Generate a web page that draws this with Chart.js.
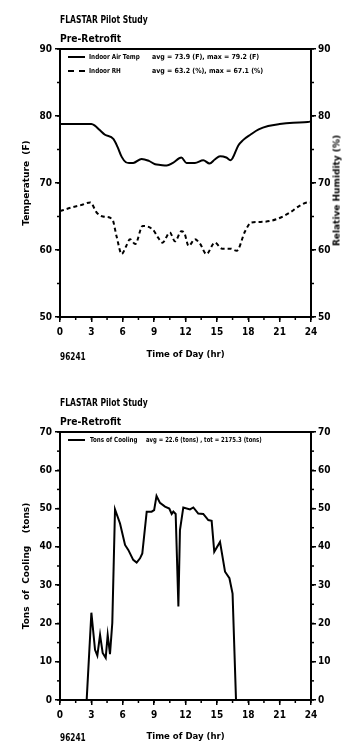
<!DOCTYPE html>
<html>
<head>
<meta charset="utf-8">
<script src="https://cdn.jsdelivr.net/npm/chart.js@4.4.1/dist/chart.umd.min.js"></script>
<style>
  html, body { margin:0; padding:0; background:#fff; width:355px; height:750px; overflow:hidden; }
  .wrap { position:relative; width:355px; height:750px; }
  canvas { position:absolute; left:0; }
  .t { position:absolute; font-family:'Liberation Sans Narrow','DejaVu Sans Condensed',sans-serif; font-weight:bold; color:#000; white-space:pre; line-height:1; transform-origin:left center; }
  .ax { position:absolute; font-family:'DejaVu Sans',sans-serif; font-weight:bold; font-size:9px; color:#000; white-space:pre; line-height:1; transform-origin:center center; }
  .sw { position:absolute; width:17px; height:0; }
</style>
</head>
<body>
<div class="wrap">
  <canvas id="c1" width="355" height="375" style="top:0"></canvas>
  <canvas id="c2" width="355" height="375" style="top:375px"></canvas>

  <div class="t" style="left:60px; top:14px; font-size:11px; transform:scaleX(0.77);">FLASTAR Pilot Study</div>
  <div class="t" style="left:60px; top:33px; font-size:11px; transform:scaleX(0.93);">Pre-Retrofit</div>
  <div class="sw" style="left:68px; top:56px; border-top:2px solid #000;"></div>
  <div class="t" style="left:89px; top:54px; font-size:7px; transform:scaleX(0.9);">Indoor Air Temp</div>
  <div class="t" style="left:152px; top:54px; font-size:7px;">avg = 73.9 (F), max = 79.2 (F)</div>
  <div class="sw" style="left:68px; top:70px; border-top:2px dashed #000;"></div>
  <div class="t" style="left:89px; top:68px; font-size:7px; transform:scaleX(0.9);">Indoor RH</div>
  <div class="t" style="left:152px; top:68px; font-size:7px;">avg = 63.2 (%), max = 67.1 (%)</div>
  <div class="ax" id="rhTitle" style="left:277px; top:186px; width:120px; text-align:center; transform:rotate(-90deg);">Relative Humidity (%)</div>
  <div class="t" style="left:60px; top:352px; font-size:10px; transform:scaleX(0.82);">96241</div>

  <div class="t" style="left:60px; top:397px; font-size:11px; transform:scaleX(0.77);">FLASTAR Pilot Study</div>
  <div class="t" style="left:60px; top:416px; font-size:11px; transform:scaleX(0.93);">Pre-Retrofit</div>
  <div class="sw" style="left:68px; top:439px; border-top:2px solid #000;"></div>
  <div class="t" style="left:90px; top:437px; font-size:7px; transform:scaleX(0.88);">Tons of Cooling</div>
  <div class="t" style="left:146px; top:437px; font-size:7px; transform:scaleX(0.85);">avg = 22.6 (tons) , tot = 2175.3 (tons)</div>
  <div class="t" style="left:60px; top:733px; font-size:10px; transform:scaleX(0.82);">96241</div>
</div>
<script>
// ---- data ----
const tempHours  = [0, 3.0, 3.3, 3.8, 4.3, 5.1, 5.5, 5.9, 6.3, 6.6, 7.0, 7.8, 8.5, 9.1, 9.6, 10.2, 10.8, 11.6, 12.1, 12.9, 13.7, 14.3, 14.8, 15.3, 15.9, 16.3, 16.5, 17.05, 17.5, 18.2, 19.0, 19.9, 21.0, 22.3, 23.7, 24];
const tempValues = [78.8, 78.8, 78.6, 77.9, 77.2, 76.6, 75.4, 73.9, 73.1, 73.0, 73.0, 73.6, 73.3, 72.8, 72.7, 72.6, 73.0, 73.8, 73.0, 73.0, 73.4, 72.9, 73.5, 74.0, 73.8, 73.4, 73.7, 75.6, 76.4, 77.2, 78.0, 78.5, 78.8, 79.0, 79.1, 79.2];

const rhHours  = [0, 1.0, 2.0, 2.9, 3.5, 4.1, 5.0, 5.4, 5.9, 6.3, 6.7, 7.2, 7.9, 8.9, 9.4, 9.8, 10.5, 11.0, 11.6, 11.9, 12.3, 12.9, 13.4, 14.0, 14.8, 15.5, 16.3, 16.9, 17.7, 18.3, 19.4, 20.7, 22.0, 22.9, 23.7, 24];
const rhValues = [65.8, 66.3, 66.7, 67.1, 65.6, 65.0, 64.6, 62.1, 59.4, 60.5, 61.6, 60.9, 63.6, 63.0, 61.8, 61.1, 62.6, 61.3, 62.8, 62.5, 60.6, 61.6, 60.9, 59.4, 61.1, 60.2, 60.2, 59.9, 62.8, 64.1, 64.2, 64.6, 65.6, 66.6, 67.1, 67.1];

const coolHours  = [0, 2.55, 3.0, 3.35, 3.57, 3.83, 4.08, 4.37, 4.56, 4.78, 5.0, 5.26, 5.74, 6.22, 6.53, 7.0, 7.33, 7.65, 7.87, 8.29, 8.76, 9.0, 9.23, 9.56, 10.04, 10.45, 10.68, 10.84, 11.06, 11.32, 11.47, 11.79, 12.43, 12.75, 13.22, 13.7, 14.18, 14.5, 14.75, 15.3, 15.78, 16.2, 16.5, 16.83, 24];
const coolValues = [0, 0, 22.8, 13.1, 11.6, 17.0, 12.3, 11.0, 17.0, 12.0, 20.1, 49.8, 46.1, 40.5, 39.2, 36.6, 35.9, 37.0, 38.3, 49.2, 49.2, 49.6, 53.3, 51.5, 50.5, 50.0, 48.6, 49.2, 48.6, 24.4, 44.4, 50.3, 49.8, 50.3, 48.7, 48.6, 47.0, 46.8, 38.7, 41.3, 33.5, 31.8, 27.8, 0, 0];

const hourTicks = [0, 3, 6, 9, 12, 15, 18, 21, 24];
const tempRange = [50, 90];
const coolRange = [0, 70];

// ---- chart setup ----
const NARROW = "'Liberation Sans Narrow','DejaVu Sans Condensed',sans-serif";
Chart.defaults.font.family = NARROW;
Chart.defaults.font.weight = 'bold';
Chart.defaults.color = '#000';

const pts = (xs, ys) => xs.map((x, i) => ({x: x, y: ys[i]}));

const minorTicks = {
  id: 'minorTicks',
  afterDraw(chart, args, opts) {
    const ctx = chart.ctx;
    ctx.save();
    ctx.strokeStyle = '#000';
    ctx.lineWidth = 1.5;
    for (const id in opts.steps) {
      const s = chart.scales[id];
      const step = opts.steps[id];
      for (let v = s.min; v <= s.max + 1e-9; v += step) {
        const p = s.getPixelForValue(v);
        ctx.beginPath();
        if (s.isHorizontal()) {
          ctx.moveTo(p, s.top); ctx.lineTo(p, s.top + 3);
        } else if (s.position === 'left') {
          ctx.moveTo(s.right - 3, p); ctx.lineTo(s.right, p);
        } else {
          ctx.moveTo(s.left, p); ctx.lineTo(s.left + 3, p);
        }
        ctx.stroke();
      }
    }
    ctx.restore();
  }
};

function xAxis(titlePadBottom, height) {
  return {
    type: 'linear', position: 'bottom', min: 0, max: 24,
    afterBuildTicks: s => { s.ticks = hourTicks.map(v => ({value: v})); },
    ticks: { font: {size: 10}, padding: 4, maxRotation: 0, autoSkip: false },
    grid: { drawOnChartArea: false, tickLength: 5, color: '#000', lineWidth: 1.5 },
    border: { color: '#000', width: 2 },
    title: { display: true, text: 'Time of Day (hr)', font: {size: 9.5}, padding: {top: 0, bottom: titlePadBottom} },
    afterFit: s => { s.height = height; }
  };
}
function topAxis() {
  return {
    type: 'linear', position: 'top', min: 0, max: 24,
    ticks: { display: false }, grid: { display: false, drawTicks: false },
    border: { color: '#000', width: 2 },
    afterFit: s => { s.height = 0; }
  };
}
function yAxis(pos, range, title, width) {
  const o = {
    type: 'linear', position: pos, min: range[0], max: range[1],
    ticks: { stepSize: 10, font: {size: 10}, padding: pos === 'left' ? 3 : 2 },
    grid: { drawOnChartArea: false, tickLength: 5, color: '#000', lineWidth: 1.5 },
    border: { color: '#000', width: 2 },
    afterFit: s => { s.width = width; }
  };
  if (title) {
    o.title = { display: true, text: title, font: {size: 9, family: "'DejaVu Sans',sans-serif"}, padding: {top: 21, bottom: 0} };
  }
  return o;
}

new Chart(document.getElementById('c1'), {
  type: 'line',
  data: {
    datasets: [
      { label: 'Indoor Air Temp', data: pts(tempHours, tempValues), yAxisID: 'y', xAxisID: 'x',
        borderColor: '#000', borderWidth: 2, pointRadius: 0, cubicInterpolationMode: 'monotone', fill: false },
      { label: 'Indoor RH', data: pts(rhHours, rhValues), yAxisID: 'y2', xAxisID: 'x',
        borderColor: '#000', borderWidth: 2, borderDash: [4, 3], pointRadius: 0, cubicInterpolationMode: 'monotone', fill: false }
    ]
  },
  options: {
    responsive: false, animation: false, devicePixelRatio: 1,
    layout: { padding: { top: 49, left: 0, right: 0, bottom: 0 } },
    plugins: { legend: { display: false }, tooltip: { enabled: false }, minorTicks: { steps: { x: 1.5, y: 5, y2: 5 } } },
    scales: {
      x: xAxis(15, 58),
      xt: topAxis(),
      y: yAxis('left', tempRange, 'Temperature  (F)', 60),
      y2: yAxis('right', tempRange, null, 44)
    }
  },
  plugins: [minorTicks]
});

new Chart(document.getElementById('c2'), {
  type: 'line',
  data: {
    datasets: [
      { label: 'Tons of Cooling', data: pts(coolHours, coolValues), yAxisID: 'y', xAxisID: 'x',
        borderColor: '#000', borderWidth: 2, pointRadius: 0, tension: 0, fill: false }
    ]
  },
  options: {
    responsive: false, animation: false, devicePixelRatio: 1,
    layout: { padding: { top: 57, left: 0, right: 0, bottom: 0 } },
    plugins: { legend: { display: false }, tooltip: { enabled: false }, minorTicks: { steps: { x: 1.5, y: 5, y2: 5 } } },
    scales: {
      x: xAxis(8, 50),
      xt: topAxis(),
      y: yAxis('left', coolRange, 'Tons  of  Cooling    (tons)', 60),
      y2: yAxis('right', coolRange, null, 44)
    }
  },
  plugins: [minorTicks]
});
</script>
</body>
</html>
